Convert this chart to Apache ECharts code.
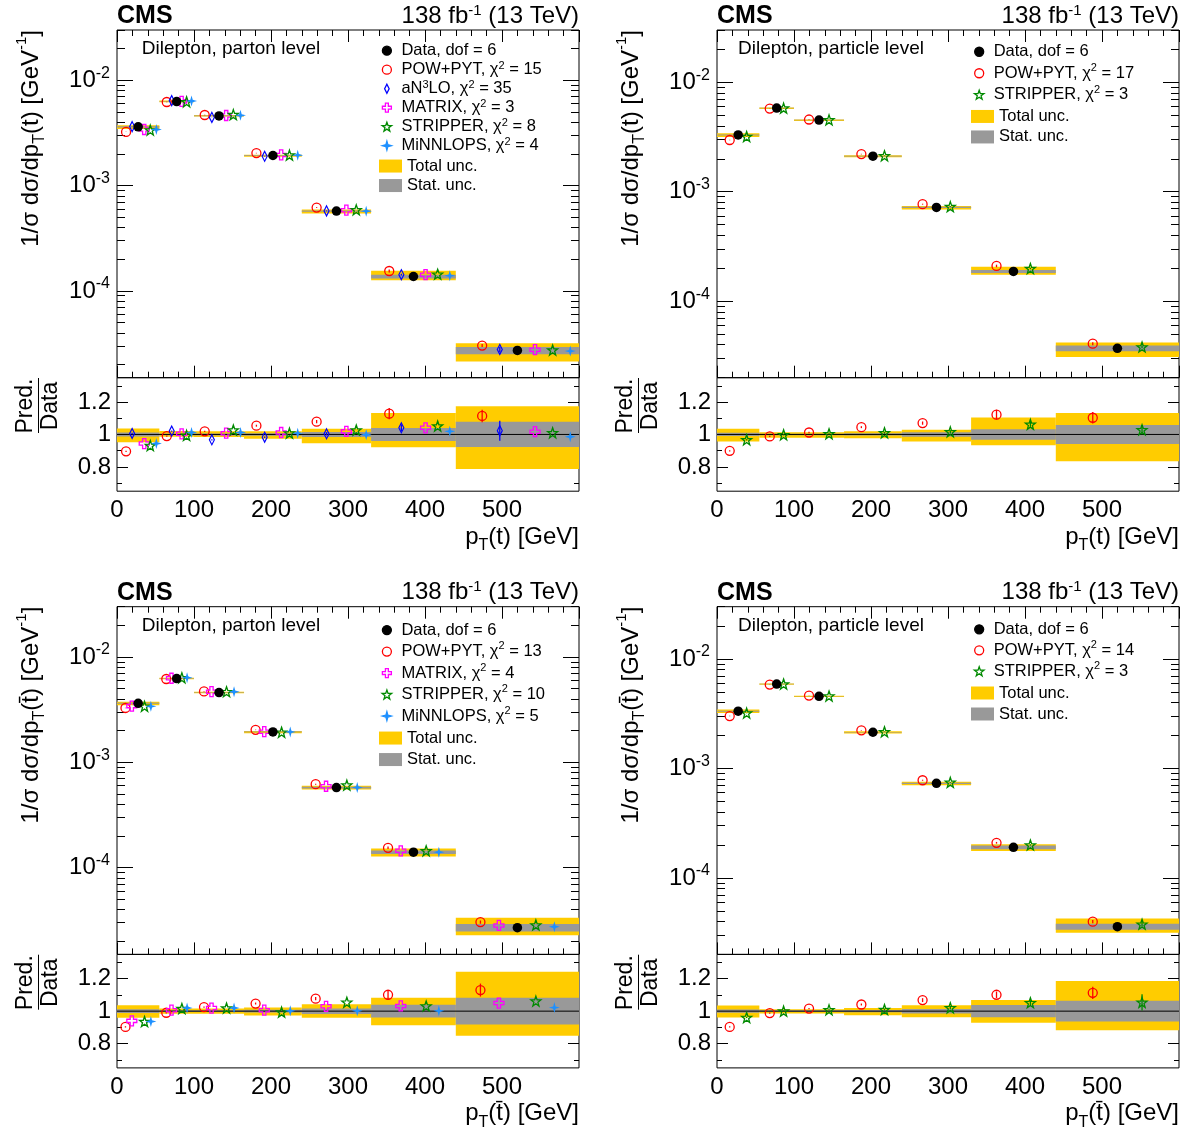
<!DOCTYPE html>
<html><head><meta charset="utf-8">
<script src="https://cdn.jsdelivr.net/npm/echarts@6/dist/echarts.min.js"></script>
<style>html,body{margin:0;padding:0;background:#fff}#c{width:1191px;height:1138px}</style>
</head><body><div id="c"></div>
<script>
// ---------------- data ----------------
const binEdges = [0, 55, 100, 165, 240, 330, 440, 600];
const xTickLabels = [0, 100, 200, 300, 400, 500];
const ratioMajor = [0.8, 1, 1.2];
const ratioMinor = [0.7, 0.9, 1.1, 1.3];
const logMajor = [1e-4, 1e-3, 1e-2];

// Panel 1: dilepton, parton level, pT(t)
const p1Data = [3.61e-3, 6.28e-3, 4.59e-3, 1.93e-3, 5.73e-4, 1.37e-4, 2.72e-5];
const p1TotUp = [0.037, 0.021, 0.019, 0.019, 0.035, 0.133, 0.174];
const p1TotDn = [0.048, 0.014, 0.016, 0.027, 0.054, 0.079, 0.213];
const p1Stat = [0.012, 0.005, 0.006, 0.008, 0.015, 0.040, 0.078];
const p1Pow = [0.896, 0.990, 1.019, 1.054, 1.079, 1.128, 1.114];
const p1PowErr = [0.004, 0.004, 0.004, 0.006, 0.010, 0.035, 0.038];
const p1An3lo = [1.006, 1.021, 0.967, 0.983, 1.004, 1.041, 1.023];
const p1An3loErr = [0.004, 0.004, 0.004, 0.005, 0.010, 0.020, 0.062];
const p1Matrix = [0.944, 1.004, 1.008, 1.012, 1.019, 1.041, 1.017];
const p1Stripper = [0.932, 0.994, 1.027, 1.008, 1.027, 1.052, 1.010];
const p1Minnlops = [0.944, 1.012, 1.012, 1.008, 0.998, 1.019, 0.986];
const p1Chi2 = [15, 35, 3, 8, 4];

// Panel 2: dilepton, particle level, pT(t)
const p2Data = [3.30e-3, 5.81e-3, 4.51e-3, 2.11e-3, 7.19e-4, 1.87e-4, 3.71e-5];
const p2TotUp = [0.035, 0.014, 0.014, 0.019, 0.029, 0.105, 0.132];
const p2TotDn = [0.043, 0.020, 0.020, 0.024, 0.043, 0.066, 0.165];
const p2Stat = [0.010, 0.005, 0.005, 0.007, 0.014, 0.032, 0.059];
const p2Pow = [0.899, 0.988, 1.012, 1.045, 1.070, 1.122, 1.103];
const p2PowErr = [0.004, 0.004, 0.004, 0.006, 0.010, 0.030, 0.035];
const p2Stripper = [0.967, 0.998, 1.004, 1.010, 1.016, 1.062, 1.029];
const p2StripperErr = [0.004, 0.004, 0.004, 0.006, 0.010, 0.015, 0.030];
const p2Chi2 = [17, 3];

// Panel 3: dilepton, parton level, pT(tbar)
const p3Data = [3.63e-3, 6.24e-3, 4.59e-3, 1.94e-3, 5.75e-4, 1.40e-4, 2.69e-5];
const p3TotUp = [0.037, 0.016, 0.016, 0.023, 0.043, 0.082, 0.243];
const p3TotDn = [0.041, 0.016, 0.016, 0.027, 0.041, 0.087, 0.152];
const p3Stat = [0.012, 0.005, 0.006, 0.008, 0.017, 0.039, 0.082];
const p3Pow = [0.903, 0.990, 1.025, 1.047, 1.077, 1.101, 1.130];
const p3PowErr = [0.004, 0.004, 0.004, 0.006, 0.010, 0.030, 0.040];
const p3Matrix = [0.940, 1.006, 1.019, 1.006, 1.030, 1.032, 1.050];
const p3Stripper = [0.936, 1.016, 1.019, 0.994, 1.055, 1.032, 1.062];
const p3Minnlops = [0.936, 1.019, 1.019, 1.002, 1.002, 1.002, 1.022];
const p3Chi2 = [13, 4, 10, 5];

// Panel 4: dilepton, particle level, pT(tbar)
const p4Data = [3.33e-3, 5.90e-3, 4.55e-3, 2.14e-3, 7.30e-4, 1.90e-4, 3.58e-5];
const p4TotUp = [0.035, 0.012, 0.012, 0.019, 0.037, 0.068, 0.186];
const p4TotDn = [0.039, 0.014, 0.014, 0.025, 0.037, 0.072, 0.118];
const p4Stat = [0.010, 0.005, 0.005, 0.007, 0.014, 0.038, 0.064];
const p4Pow = [0.903, 0.988, 1.016, 1.041, 1.068, 1.101, 1.113];
const p4PowErr = [0.004, 0.004, 0.004, 0.006, 0.012, 0.020, 0.038];
const p4Stripper = [0.961, 1.000, 1.008, 1.010, 1.021, 1.052, 1.054];
const p4StripperErr = [0.004, 0.004, 0.004, 0.006, 0.010, 0.015, 0.050];
const p4Chi2 = [14, 3];

const zeroErr = [0, 0, 0, 0, 0, 0, 0];
const dof = 6;
const lumiText = '138 fb{s|-1} (13 TeV)';

// ---------------- styles ----------------
const FONT = '"Liberation Sans", Arial, Helvetica, sans-serif';
const CLEAR = 'rgba(0,0,0,0)';
const STY = {
  'POW+PYT': {symbol: 'circle', size: 9, fill: CLEAR, stroke: '#ff0000', lw: 1.3},
  'aN3LO': {symbol: 'path://M0,-5L2.5,0L0,5L-2.5,0Z', size: [5, 10], fill: CLEAR, stroke: '#0000ff', lw: 1.3},
  'MATRIX': {symbol: 'path://M-1.3,-4L1.3,-4L1.3,-1.3L4,-1.3L4,1.3L1.3,1.3L1.3,4L-1.3,4L-1.3,1.3L-4,1.3L-4,-1.3L-1.3,-1.3Z', size: 10, fill: CLEAR, stroke: '#ff00ff', lw: 1.3},
  'STRIPPER': {symbol: 'path://M0,-5L1.18,-1.62L4.76,-1.55L1.9,0.62L2.94,4.05L0,2L-2.94,4.05L-1.9,0.62L-4.76,-1.55L-1.18,-1.62Z', size: 10, fill: CLEAR, stroke: '#008a00', lw: 1.3},
  'MiNNLOPS': {symbol: 'path://M0,-5.5L1.2,-1.2L5.5,0L1.2,1.2L0,5.5L-1.2,1.2L-5.5,0L-1.2,-1.2Z', size: 11, fill: '#1e90ff', stroke: '#1e90ff', lw: 0}
};
const YELLOW = '#ffcc00', GRAY = '#999999';

const panels = [
  {data: p1Data, up: p1TotUp, dn: p1TotDn, stat: p1Stat, yMin: 1.5e-5, label: 'Dilepton, parton level', tb: false,
   models: [['POW+PYT', p1Pow, p1PowErr, 0.214], ['aN3LO', p1An3lo, p1An3loErr, 0.357], ['MATRIX', p1Matrix, zeroErr, 0.643],
            ['STRIPPER', p1Stripper, zeroErr, 0.786], ['MiNNLOPS', p1Minnlops, zeroErr, 0.929]], chi2: p1Chi2,
   leg: {mx: 381.5, my: 41.2, lh: 19, ux: 379, uy: 156.3, ulh: 19.5}},
  {data: p2Data, up: p2TotUp, dn: p2TotDn, stat: p2Stat, yMin: 2e-5, label: 'Dilepton, particle level', tb: false,
   models: [['POW+PYT', p2Pow, p2PowErr, 0.3], ['STRIPPER', p2Stripper, p2StripperErr, 0.7]], chi2: p2Chi2,
   leg: {mx: 973.8, my: 41, lh: 21.5, ux: 971, uy: 106.2, ulh: 20.5}},
  {data: p3Data, up: p3TotUp, dn: p3TotDn, stat: p3Stat, yMin: 1.5e-5, label: 'Dilepton, parton level', tb: true,
   models: [['POW+PYT', p3Pow, p3PowErr, 0.2], ['MATRIX', p3Matrix, zeroErr, 0.35], ['STRIPPER', p3Stripper, zeroErr, 0.65],
            ['MiNNLOPS', p3Minnlops, zeroErr, 0.8]], chi2: p3Chi2,
   leg: {mx: 381.5, my: 619.3, lh: 21.5, ux: 379, uy: 727.3, ulh: 21.5}},
  {data: p4Data, up: p4TotUp, dn: p4TotDn, stat: p4Stat, yMin: 2e-5, label: 'Dilepton, particle level', tb: true,
   models: [['POW+PYT', p4Pow, p4PowErr, 0.3], ['STRIPPER', p4Stripper, p4StripperErr, 0.7]], chi2: p4Chi2,
   leg: {mx: 973.8, my: 618.8, lh: 21, ux: 971, uy: 682.5, ulh: 21}}
];

// log minor tick positions
const logMinor = [];
for (let e = -5; e <= -2; e++) for (let k = 2; k <= 9; k++) logMinor.push(k * Math.pow(10, e));

// ---------------- helpers ----------------
function bandItem(fill) {
  return function (params, api) {
    const a = api.coord([api.value(0), api.value(3)]);
    const b = api.coord([api.value(1), api.value(2)]);
    return {type: 'rect', shape: {x: a[0], y: a[1], width: b[0] - a[0], height: b[1] - a[1]}, style: {fill: fill}};
  };
}
function errItem(color) {
  return function (params, api) {
    const a = api.coord([api.value(0), api.value(1)]);
    const b = api.coord([api.value(0), api.value(2)]);
    return {type: 'line', shape: {x1: a[0], y1: a[1], x2: b[0], y2: b[1]}, style: {stroke: color, lineWidth: 1.3}};
  };
}
function binX(b, frac) { return binEdges[b] + frac * (binEdges[b + 1] - binEdges[b]); }
function legendName(m, chi) { return m + ', χ2 = ' + chi; }
function legendFmt(name) {
  return name.replace('aN3LO', 'aN{s|3}LO').replace('χ2', 'χ{s|2}');
}

const option = {
  animation: false,
  backgroundColor: '#fff',
  textStyle: {fontFamily: FONT, color: '#000'},
  grid: [], xAxis: [], yAxis: [], series: [], legend: [], graphic: []
};

const UP_H = 347.7, R_H = 113.5;

panels.forEach(function (P, i) {
  const ox = (i % 2) * 600, oy = Math.floor(i / 2) * 576.7;
  const left = 117 + ox, upTop = 30 + oy, rTop = upTop + UP_H;
  const gU = 2 * i, gR = 2 * i + 1;
  const xU = 3 * i, xR = 3 * i + 2, yU = 8 * i, yR = 8 * i + 4;

  const gridBase = {left: left, width: 462, show: true, borderColor: '#000', borderWidth: 1, backgroundColor: CLEAR, containLabel: false, outerBoundsMode: 'none'};
  option.grid.push(Object.assign({top: upTop, height: UP_H}, gridBase));
  option.grid.push(Object.assign({top: rTop, height: R_H}, gridBase));

  // x axes
  ['bottom', 'top'].forEach(function (pos) {
    option.xAxis.push({type: 'value', gridIndex: gU, position: pos, min: 0, max: 600, interval: 100,
      axisLine: {show: false}, axisLabel: {show: false}, splitLine: {show: false},
      axisTick: {show: true, inside: true, length: 12, lineStyle: {color: '#000', width: 1}},
      minorTick: {show: true, splitNumber: 5, length: 6, lineStyle: {color: '#000', width: 1}},
      minorSplitLine: {show: false}});
  });
  option.xAxis.push({type: 'value', gridIndex: gR, position: 'bottom', min: 0, max: 600, interval: 100,
    axisLine: {show: false}, axisTick: {show: false}, splitLine: {show: false},
    axisLabel: {show: true, customValues: xTickLabels, fontSize: 24, color: '#000', fontFamily: FONT, margin: 7}});

  // y axes upper (log)
  function logAxis(pos, ticks, len, withLabel) {
    return {type: 'log', logBase: 10, gridIndex: gU, position: pos, min: P.yMin, max: 3e-2,
      axisLine: {show: false}, splitLine: {show: false}, minorTick: {show: false},
      axisTick: {show: true, inside: true, length: len, customValues: ticks, lineStyle: {color: '#000', width: 1}},
      axisLabel: withLabel ? {show: true, customValues: logMajor, margin: 7,
        formatter: function (v) { return '{b|10}{s|' + Math.round(Math.log10(v)) + '}'; },
        rich: {b: {fontSize: 24, lineHeight: 30, color: '#000', fontFamily: FONT},
               s: {fontSize: 16, lineHeight: 16, verticalAlign: 'top', color: '#000', fontFamily: FONT}}} : {show: false}};
  }
  option.yAxis.push(logAxis('left', logMajor, 16, true));
  option.yAxis.push(logAxis('left', logMinor, 8, false));
  option.yAxis.push(logAxis('right', logMajor, 16, false));
  option.yAxis.push(logAxis('right', logMinor, 8, false));
  // y axes ratio
  function ratioAxis(pos, ticks, len, withLabel) {
    return {type: 'value', gridIndex: gR, position: pos, min: 0.65, max: 1.35,
      axisLine: {show: false}, splitLine: {show: false},
      axisTick: {show: true, inside: true, length: len, customValues: ticks, lineStyle: {color: '#000', width: 1}},
      axisLabel: withLabel ? {show: true, customValues: ratioMajor, margin: 6, fontSize: 24, color: '#000', fontFamily: FONT,
        formatter: function (v) { return Math.abs(v - 1) < 1e-9 ? '1' : v.toFixed(1); }} : {show: false}};
  }
  option.yAxis.push(ratioAxis('left', ratioMajor, 11, true));
  option.yAxis.push(ratioAxis('left', ratioMinor, 5, false));
  option.yAxis.push(ratioAxis('right', ratioMajor, 11, false));
  option.yAxis.push(ratioAxis('right', ratioMinor, 5, false));

  const nb = P.data.length;
  const idx = P.data.map(function (_, b) { return b; });

  // bands (upper)
  option.series.push({type: 'custom', name: 'Total unc.', xAxisIndex: xU, yAxisIndex: yU, z: 1, silent: true,
    renderItem: bandItem(YELLOW), itemStyle: {color: YELLOW, opacity: 1}, encode: {x: [0, 1], y: [2, 3]},
    data: idx.map(function (b) { return [binEdges[b], binEdges[b + 1], P.data[b] * (1 - P.dn[b]), P.data[b] * (1 + P.up[b])]; })});
  option.series.push({type: 'custom', name: 'Stat. unc.', xAxisIndex: xU, yAxisIndex: yU, z: 2, silent: true,
    renderItem: bandItem(GRAY), itemStyle: {color: GRAY, opacity: 1}, encode: {x: [0, 1], y: [2, 3]},
    data: idx.map(function (b) { return [binEdges[b], binEdges[b + 1], P.data[b] * (1 - P.stat[b]), P.data[b] * (1 + P.stat[b])]; })});
  // bands (ratio)
  option.series.push({type: 'custom', name: 'Total unc.', xAxisIndex: xR, yAxisIndex: yR, z: 1, silent: true,
    renderItem: bandItem(YELLOW), itemStyle: {color: YELLOW, opacity: 1}, encode: {x: [0, 1], y: [2, 3]},
    data: idx.map(function (b) { return [binEdges[b], binEdges[b + 1], 1 - P.dn[b], 1 + P.up[b]]; })});
  option.series.push({type: 'custom', name: 'Stat. unc.', xAxisIndex: xR, yAxisIndex: yR, z: 2, silent: true,
    renderItem: bandItem(GRAY), itemStyle: {color: GRAY, opacity: 1}, encode: {x: [0, 1], y: [2, 3]},
    data: idx.map(function (b) { return [binEdges[b], binEdges[b + 1], 1 - P.stat[b], 1 + P.stat[b]]; })});
  option.series.push({type: 'line', xAxisIndex: xR, yAxisIndex: yR, z: 3, silent: true, symbol: 'none',
    lineStyle: {color: '#000', width: 1, opacity: 1}, data: [[binEdges[0], 1], [binEdges[nb], 1]]});

  // predictions
  const mNames = [];
  P.models.forEach(function (m, k) {
    const key = m[0], ratio = m[1], err = m[2], frac = m[3];
    const st = STY[key];
    const nm = legendName(key, P.chi2[k]);
    mNames.push(nm);
    const common = {type: 'scatter', name: nm, z: 5, silent: true, symbol: st.symbol, symbolSize: st.size,
      itemStyle: {color: st.fill, borderColor: st.stroke, borderWidth: st.lw, opacity: 1}};
    option.series.push({type: 'custom', xAxisIndex: xU, yAxisIndex: yU, z: 4, silent: true, renderItem: errItem(st.stroke),
      encode: {x: 0, y: [1, 2]},
      data: idx.map(function (b) { return [binX(b, frac), P.data[b] * (ratio[b] - err[b]), P.data[b] * (ratio[b] + err[b])]; })});
    option.series.push({type: 'custom', xAxisIndex: xR, yAxisIndex: yR, z: 4, silent: true, renderItem: errItem(st.stroke),
      encode: {x: 0, y: [1, 2]},
      data: idx.map(function (b) { return [binX(b, frac), ratio[b] - err[b], ratio[b] + err[b]]; })});
    option.series.push(Object.assign({xAxisIndex: xU, yAxisIndex: yU,
      data: idx.map(function (b) { return [binX(b, frac), P.data[b] * ratio[b]]; })}, common));
    option.series.push(Object.assign({xAxisIndex: xR, yAxisIndex: yR,
      data: idx.map(function (b) { return [binX(b, frac), ratio[b]]; })}, common));
  });
  // data
  const dName = 'Data, dof = ' + dof;
  option.series.push({type: 'scatter', name: dName, xAxisIndex: xU, yAxisIndex: yU, z: 6, silent: true,
    symbol: 'circle', symbolSize: 9.5, itemStyle: {color: '#000', borderColor: '#000', borderWidth: 0, opacity: 1},
    data: idx.map(function (b) { return [binX(b, 0.5), P.data[b]]; })});

  // legends
  option.legend.push({left: P.leg.mx, top: P.leg.my, orient: 'vertical', padding: 0, itemGap: 0,
    itemWidth: 19, itemHeight: 9, selectedMode: false, data: [dName].concat(mNames),
    itemStyle: {borderWidth: 1.3, opacity: 1}, formatter: legendFmt,
    textStyle: {fontSize: 16.5, color: '#000', fontFamily: FONT, lineHeight: P.leg.lh,
      rich: {s: {fontSize: 11, lineHeight: 11, verticalAlign: 'top', color: '#000', fontFamily: FONT}}}});
  option.legend.push({left: P.leg.ux, top: P.leg.uy, orient: 'vertical', padding: 0, itemGap: 0,
    itemWidth: 23, itemHeight: 13, selectedMode: false, itemStyle: {borderWidth: 0, opacity: 1},
    data: [{name: 'Total unc.', icon: 'rect'}, {name: 'Stat. unc.', icon: 'rect'}],
    textStyle: {fontSize: 16.5, color: '#000', fontFamily: FONT, lineHeight: P.leg.ulh}});

  // texts
  const tq = P.tb ? 't\u0304' : 't';
  const supRich = {s: {fontSize: 15, lineHeight: 14, verticalAlign: 'top', fontFamily: FONT, fill: '#000'},
                   sb: {fontSize: 16, lineHeight: 12, verticalAlign: 'bottom', fontFamily: FONT, fill: '#000'}};
  option.graphic.push({type: 'text', x: left, y: 16 + oy, silent: true,
    style: {text: 'CMS', fontSize: 25, fontWeight: 'bold', fontFamily: FONT, fill: '#000', textVerticalAlign: 'middle'}});
  option.graphic.push({type: 'text', x: left + 462, y: 16 + oy, silent: true,
    style: {text: lumiText, fontSize: 24, fontFamily: FONT, fill: '#000', textAlign: 'right', textVerticalAlign: 'middle', lineHeight: 26, rich: supRich}});
  option.graphic.push({type: 'text', x: 231 + ox, y: 48.7 + oy, silent: true,
    style: {text: P.label, fontSize: 19, fontFamily: FONT, fill: '#000', textAlign: 'center', textVerticalAlign: 'middle'}});
  option.graphic.push({type: 'text', x: 31 + ox, y: 30 + oy, rotation: Math.PI / 2, silent: true,
    style: {text: '1/σ dσ/dp{sb|T}(' + tq + ') [GeV{s|-1}]', fontSize: 24, fontFamily: FONT, fill: '#000',
      textAlign: 'right', textVerticalAlign: 'middle', lineHeight: 34, rich: supRich}});
  option.graphic.push({type: 'text', x: left + 462, y: 537 + oy, silent: true,
    style: {text: 'p{sb|T}(' + tq + ') [GeV]', fontSize: 24, fontFamily: FONT, fill: '#000',
      textAlign: 'right', textVerticalAlign: 'middle', lineHeight: 34, rich: supRich}});
  option.graphic.push({type: 'text', x: 26 + ox, y: 406 + oy, rotation: Math.PI / 2, silent: true,
    style: {text: 'Pred.', fontSize: 23, fontFamily: FONT, fill: '#000', textAlign: 'center', textVerticalAlign: 'middle'}});
  option.graphic.push({type: 'text', x: 51 + ox, y: 406 + oy, rotation: Math.PI / 2, silent: true,
    style: {text: 'Data', fontSize: 23, fontFamily: FONT, fill: '#000', textAlign: 'center', textVerticalAlign: 'middle'}});
  option.graphic.push({type: 'line', silent: true, shape: {x1: 38.5 + ox, y1: 378 + oy, x2: 38.5 + ox, y2: 433 + oy},
    style: {stroke: '#000', lineWidth: 1}});
});

const chart = echarts.init(document.getElementById('c'), null, {renderer: 'canvas'});
chart.setOption(option);
</script>
</body></html>
